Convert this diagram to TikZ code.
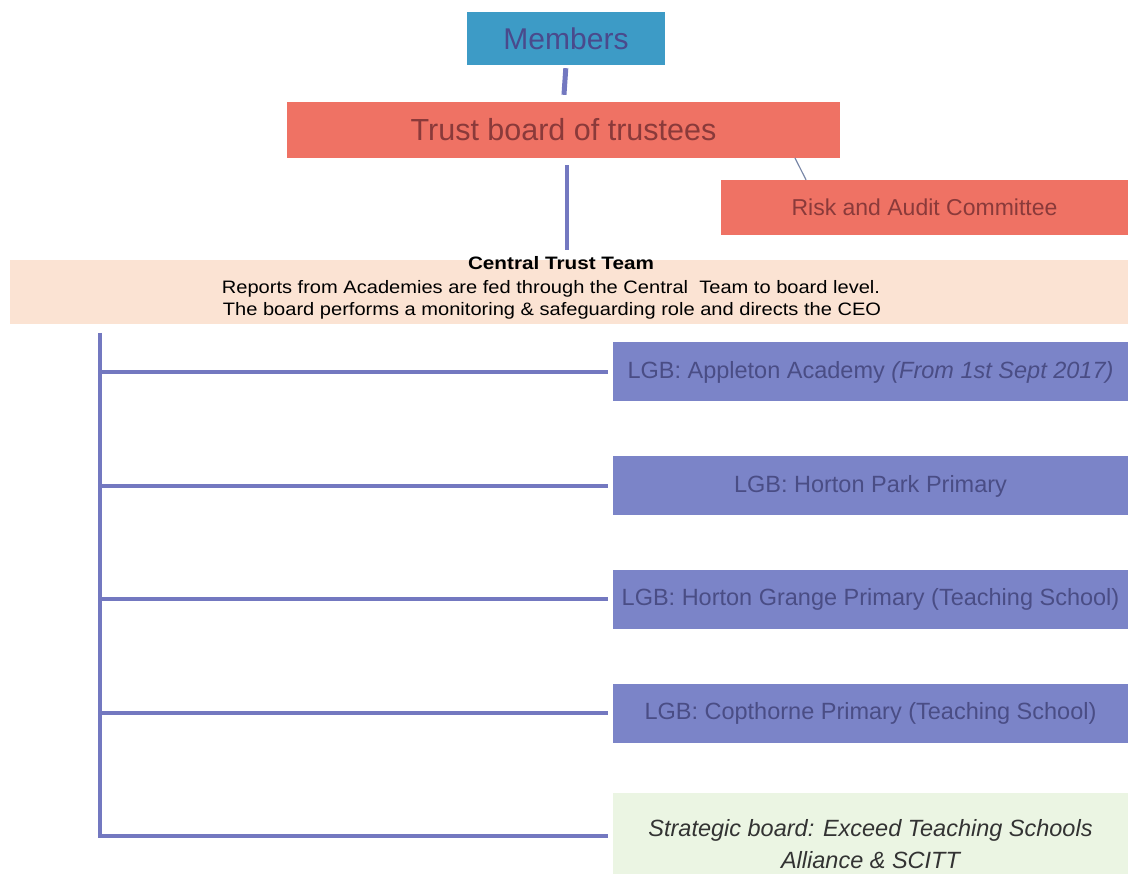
\documentclass[tikz,border=0pt]{standalone}
\usepackage{fontspec}
\setmainfont{Liberation Sans}
\newfontfamily\titlefont[FakeStretch=1.15]{Liberation Sans}
\newfontfamily\bandfont[FakeStretch=1.115]{Liberation Sans}
\definecolor{membfill}{HTML}{3D9BC6}
\definecolor{membtext}{HTML}{4A4A8C}
\definecolor{redfill}{HTML}{EF7264}
\definecolor{redtext}{HTML}{8A3A3A}
\definecolor{bandfill}{HTML}{FBE3D3}
\definecolor{lgbfill}{HTML}{7B84C8}
\definecolor{lgbtext}{HTML}{4A4D85}
\definecolor{greenfill}{HTML}{EBF5E3}
\definecolor{linecol}{HTML}{7378C0}
\definecolor{thincol}{HTML}{7A88A8}
\tikzset{
  box/.style={inner sep=0pt, align=center},
  lgbbox/.style={box, fill=lgbfill, text=lgbtext, minimum width=515pt, minimum height=59pt, font=\fontsize{23.5}{26}\selectfont},
  treeline/.style={draw=linecol, line width=3.5pt},
}
\begin{document}
\begin{tikzpicture}[x=1pt,y=-1pt]
\useasboundingbox[fill=white] (0,0) rectangle (1128,874);
% top
\node[box, fill=membfill, text=membtext, minimum width=198pt, minimum height=53pt, font=\fontsize{30}{33}\selectfont] (members) at (566,38.5) {Members};
\node[box, fill=redfill, text=redtext, minimum width=553pt, minimum height=56pt, font=\fontsize{30.5}{33}\selectfont] (trust) at (563.5,130) {Trust board of trustees};
\node[box, fill=redfill, text=redtext, minimum width=407pt, minimum height=55pt, font=\fontsize{23}{26}\selectfont] (risk) at (924.5,207.5) {Risk and Audit Committee};
\node[box, fill=bandfill, minimum width=1118pt, minimum height=64pt] (band) at (569,292) {};
\node[box, font=\titlefont\bfseries\fontsize{18}{20}\selectfont] (bandtitle) at (561,263) {Central Trust Team};
\node[box, font=\bandfont\fontsize{18}{20}\selectfont] (bandl1) at (551,289) {Reports from Academies are fed through the Central\ \ Team to board level.};
\node[box, font=\bandfont\fontsize{18}{20}\selectfont] (bandl2) at (552,311) {The board performs a monitoring \& safeguarding role and directs the CEO};
% connectors top
\draw[draw=linecol, line width=5pt, shorten <=3pt, shorten >=7pt] (members.south) -- (trust.north);
\coordinate (ct) at (567,260);
\draw[draw=linecol, line width=3.5pt, shorten <=7pt, shorten >=10pt] (trust.south -| ct) -- (ct);
\coordinate (rk1) at (795,158);
\draw[draw=thincol, line width=1.2pt] (rk1) -- (risk.north -| 806,0);
% LGB boxes
\node[lgbbox] (app) at (870.5,372) {LGB: Appleton Academy \textit{(From 1st Sept 2017)}};
\node[lgbbox] (park) at (870.5,486) {LGB: Horton Park Primary};
\node[lgbbox] (grange) at (870.5,599) {LGB: Horton Grange Primary (Teaching School)};
\node[lgbbox] (cop) at (870.5,713) {LGB: Copthorne Primary (Teaching School)};
\node[box, fill=greenfill, text=black!80, minimum width=515pt, minimum height=102pt, font=\itshape\fontsize{23.5}{32}\selectfont] (strat) at (870.5,844) {Strategic board: Exceed Teaching Schools\\Alliance \& SCITT};
% tree
\coordinate (ttop) at (100,333);
\coordinate (tbot) at (100,838);
\draw[treeline] (ttop) -- (tbot);
\foreach \n in {app,park,grange,cop} {
  \draw[treeline, shorten >=5pt] (ttop |- \n.west) -- (\n.west);
}
\draw[treeline, shorten >=5pt] (tbot |- 0,836) -- (strat.west |- 0,836);
\end{tikzpicture}
\end{document}
